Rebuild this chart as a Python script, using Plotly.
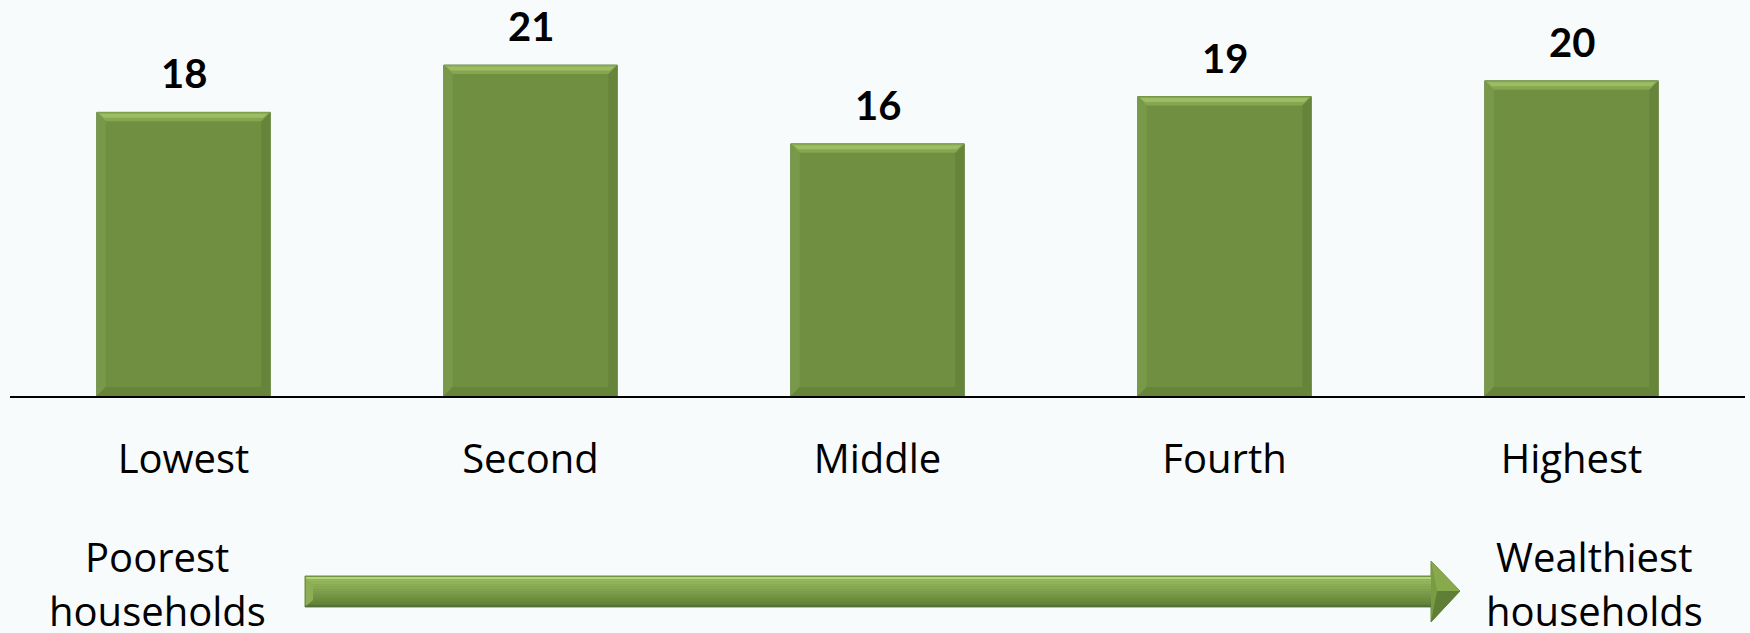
import plotly.graph_objects as go

# Household wealth quintiles and their values
categories = ["Lowest", "Second", "Middle", "Fourth", "Highest"]
values = [18, 21, 16, 19, 20]
left_caption = ["Poorest", "households"]
right_caption = ["Wealthiest", "households"]

W, H = 1750, 633
ML, MR, MT, MB = 10, 5, 2, 237
Y_MAX = 25
plot_w = W - ML - MR
plot_h = H - MT - MB

LABEL_FONT = "Lato"
TEXT_FONT = "Open Sans"
BG = "#F8FBFC"
BAR = "#708F41"
EDGE = "#61803A"
LIGHT = "#9CBD63"
LIGHT2 = "#86A750"
DARK = "#66853A"
SIDE_L = "#78984A"
SIDE_R = "#66853B"

xs = list(range(len(categories)))
half = 0.25
bx = 9 / (plot_w / len(categories))   # bevel width in x units
by = 9 / (plot_h / Y_MAX)             # bevel height in y units

fig = go.Figure()
fig.add_trace(go.Bar(
    x=xs, y=values, width=2 * half,
    marker=dict(color=BAR, line=dict(color=EDGE, width=1)),
    hoverinfo="skip",
))

shapes = []


def poly(pts, color):
    d = "M " + " L ".join(f"{x},{y}" for x, y in pts) + " Z"
    return dict(type="path", path=d, xref="x", yref="y",
                fillcolor=color, line=dict(width=0), layer="above")


# bevelled edges on every bar
for i, v in zip(xs, values):
    l, r = i - half, i + half
    shapes.append(poly([(l, 0), (l, v), (l + bx, v - by), (l + bx, by)], SIDE_L))
    shapes.append(poly([(r, 0), (r, v), (r - bx, v - by), (r - bx, by)], SIDE_R))
    shapes.append(poly([(l, 0), (r, 0), (r - bx, by), (l + bx, by)], DARK))
    shapes.append(poly([(l, v), (r, v), (r - bx, v - by), (l + bx, v - by)], LIGHT2))
    shapes.append(poly([(l + bx * 0.3, v - by * 0.15), (r - bx * 0.3, v - by * 0.15),
                        (r - bx * 0.8, v - by * 0.6), (l + bx * 0.8, v - by * 0.6)], LIGHT))


def px(x):
    return (x - ML) / plot_w


def py(y):
    return (H - MB - y) / plot_h


def ppoly(pts, color, lw=0, lc=None):
    d = "M " + " L ".join(f"{px(x)},{py(y)}" for x, y in pts) + " Z"
    return dict(type="path", path=d, xref="paper", yref="paper",
                fillcolor=color, line=dict(width=lw, color=lc or color), layer="above")


def mix(c1, c2, t):
    a = [int(c1[k:k + 2], 16) for k in (1, 3, 5)]
    b = [int(c2[k:k + 2], 16) for k in (1, 3, 5)]
    return "#" + "".join(f"{round(p + (q - p) * t):02x}" for p, q in zip(a, b))


# direction arrow from poorest to wealthiest
x0, x1, tip = 305, 1431, 1460
s0, s1 = 576, 607
h0, h1, hc = 561, 622, 591
shapes.append(ppoly([(x0, s0), (x1, s0), (x1, h0), (tip, hc), (x1, h1), (x1, s1), (x0, s1)],
                    "#7A9B42", 1, "#6E8C40"))
# shaft shading, light on top to darker underneath
n = 12
top_c, bot_c = "#9CC062", "#5F7E36"
for k in range(n):
    ya = s0 + 1 + (s1 - s0 - 2) * k / n
    yb = s0 + 1 + (s1 - s0 - 2) * (k + 1) / n
    shapes.append(ppoly([(x0 + 1, ya), (x1, ya), (x1, yb), (x0 + 1, yb)], mix(top_c, bot_c, k / (n - 1))))
shapes.append(ppoly([(x0 + 1, s0 + 1), (x1, s0 + 1), (x1, s0 + 3), (x0 + 1, s0 + 3)], "#B2D57E"))
shapes.append(ppoly([(x0, s1 - 2), (x1, s1 - 2), (x1, s1), (x0, s1)], "#55703A"))
shapes.append(ppoly([(x0 + 1, s0 + 2), (x0 + 8, s0 + 9), (x0 + 8, s1 - 7), (x0 + 1, s1 - 1)], "#8DAE55"))
# arrow head, upper face lit and lower face in shadow
shapes.append(ppoly([(x1, h0), (tip, hc), (x1 + 6, hc)], "#88AA4C"))
shapes.append(ppoly([(x1, h1), (tip, hc), (x1 + 6, hc)], "#5F7E36"))
shapes.append(ppoly([(x1, h0 + 4), (x1 + 6, hc), (x1, h1 - 4)], "#7A9B42"))

annotations = []
for i, v in zip(xs, values):
    annotations.append(dict(
        x=i, y=v, xref="x", yref="y", text=f"<b>{v}</b>", showarrow=False,
        yanchor="middle", yshift=39,
        font=dict(family=LABEL_FONT, size=40, color="black"),
    ))

cap_font = dict(family=TEXT_FONT, size=40, color="black")
for cx, lines in ((157, left_caption), (1594, right_caption)):
    for cy, txt in zip((556, 610), lines):
        annotations.append(dict(
            x=px(cx), y=py(cy), xref="paper", yref="paper", text=txt,
            showarrow=False, xanchor="center", yanchor="middle", font=cap_font,
        ))

fig.update_layout(
    width=W, height=H,
    margin=dict(l=ML, r=MR, t=MT, b=MB),
    paper_bgcolor=BG, plot_bgcolor=BG,
    showlegend=False,
    bargap=0.5,
    shapes=shapes,
    annotations=annotations,
    xaxis=dict(
        range=[-0.5, len(categories) - 0.5],
        tickmode="array", tickvals=xs, ticktext=categories,
        tickfont=cap_font, ticks="", ticklabelstandoff=27,
        showgrid=False, zeroline=False,
        showline=True, linecolor="black", linewidth=2,
    ),
    yaxis=dict(range=[0, Y_MAX], visible=False, showgrid=False, zeroline=False),
)

fig.write_html("out.html")
